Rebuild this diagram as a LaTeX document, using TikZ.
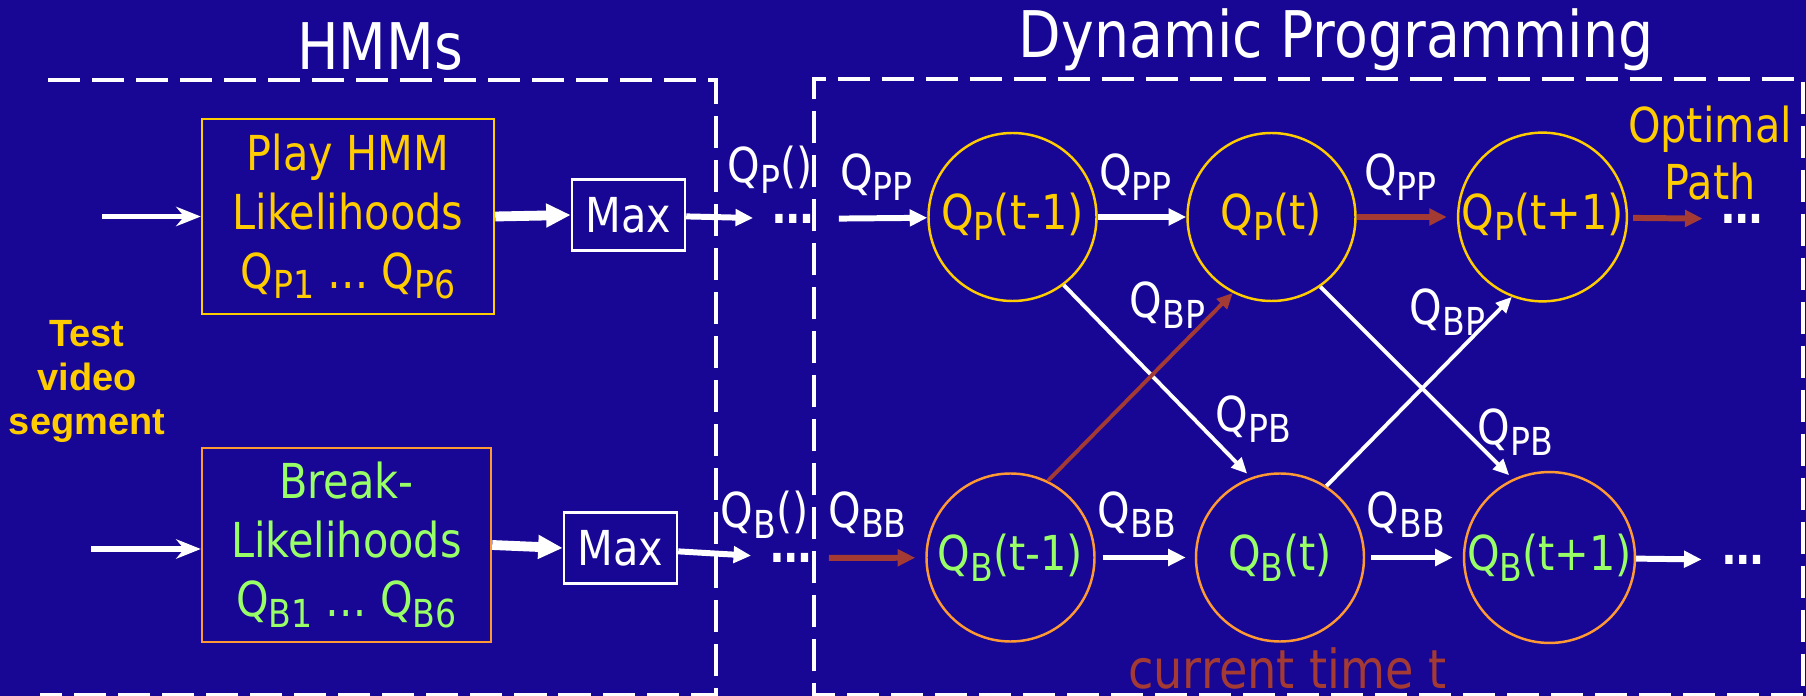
\documentclass[tikz,border=0pt]{standalone}
\usepackage{graphicx}
\usepackage{fontspec}
\setmainfont{DejaVu Sans}[FakeStretch=0.86]
\newfontfamily\labelfont{Liberation Sans}
\usetikzlibrary{positioning,arrows.meta}

\definecolor{slideblue}{RGB}{24,7,148}
\definecolor{playgold}{RGB}{255,204,0}
\definecolor{breakgreen}{RGB}{153,255,102}
\definecolor{breakorange}{RGB}{255,153,51}
\definecolor{pathred}{RGB}{163,58,51}

\newcommand{\Qs}[1]{Q\raisebox{-0.4ex}{\scalebox{0.8}{#1}}}

\tikzset{
  flowarrow/.style={-{Triangle[length=5pt,width=4.6pt]}, line width=1.7pt, white},
  patharrow/.style={flowarrow, pathred},
  bigarrow/.style={-{Triangle[length=7pt,width=6.4pt]}, line width=2.8pt, white},
  inarrow/.style={-{Stealth[length=7pt,width=5.5pt]}, line width=1.6pt, white},
  crossarrow/.style={-{Triangle[length=4.5pt,width=4pt]}, line width=1.1pt, white},
  dashline/.style={white, line width=1pt, dash pattern=on 0.32cm off 0.12cm},
  title/.style={text=white, anchor=base, inner sep=0pt, font=\fontsize{18.3}{22}\selectfont},
  hmmbox/.style={draw, line width=0.7pt, align=center, inner sep=0pt},
  maxbox/.style={draw=white, line width=0.7pt, minimum width=1.13cm, minimum height=0.71cm, inner sep=0pt, text=white},
  playstate/.style={circle, draw=playgold, line width=0.7pt, minimum size=1.68cm, inner sep=0pt, text=playgold},
  breakstate/.style={circle, draw=breakorange, line width=0.7pt, minimum size=1.68cm, inner sep=0pt, text=breakgreen},
  qlabel/.style={text=white, inner sep=0pt, anchor=base},
  dotsnode/.style={text=white, inner sep=0pt, font=\bfseries\fontsize{13.7}{16.8}\selectfont},
  testlabel/.style={text=playgold, align=center, inner sep=0pt, font=\labelfont\bfseries\fontsize{10.8}{12.5}\selectfont}
}

\begin{document}
\begin{tikzpicture}[every node/.style={font=\fontsize{13.7}{16.8}\selectfont}]
  \fill[slideblue] (0,0) rectangle (18.06,-6.96);
  \useasboundingbox (0,0) rectangle (18.06,-6.96);

  \draw[dashline] (0.48,-0.80) -- (7.16,-0.80) -- (7.16,-6.945) -- (0.40,-6.945);
  \draw[dashline] (18.03,-6.945) -- (8.14,-6.945) -- (8.14,-0.79) -- (18.03,-0.79) -- cycle;

  \node[title] (hmmtitle) at (3.80,-0.70) {HMMs};
  \node[title] (dptitle) at (13.36,-0.58) {Dynamic Programming};

  \node[hmmbox, draw=playgold, text=playgold, minimum width=2.92cm, minimum height=1.95cm] (playbox) at (3.48,-2.165) {Play HMM\\Likelihoods\\\Qs{P1} … \Qs{P6}};
  \node[hmmbox, draw=breakorange, text=breakgreen, minimum width=2.89cm, minimum height=1.94cm] (breakbox) at (3.465,-5.45) {Break-\\Likelihoods\\\Qs{B1} … \Qs{B6}};
  \node[testlabel] (testseg) at (0.87,-3.815) {Test\\video\\segment};

  \coordinate (inP) at (1.02,-2.165);
  \coordinate (inB) at (0.91,-5.49);
  \draw[inarrow] (inP) -- (playbox.west);
  \draw[inarrow] (inB) -- (inB -| breakbox.west);

  \node[maxbox] (maxP) at (6.285,-2.15) {Max};
  \node[maxbox] (maxB) at (6.205,-5.48) {Max};
  \draw[bigarrow] (playbox.east) -- (maxP.west);
  \draw[bigarrow] (breakbox.east) -- (maxB.west);

  \node[dotsnode] (dotsPL) at (7.935,-2.19) {…};
  \node[dotsnode] (dotsBL) at (7.915,-5.58) {…};
  \draw[flowarrow, shorten >=0.19cm] (maxP) -- (dotsPL);
  \draw[flowarrow, shorten >=0.19cm] (maxB) -- (dotsBL);
  \node[qlabel, anchor=base west] (qP) at (7.27,-1.83) {\Qs{P}()};
  \node[qlabel, anchor=base west] (qB) at (7.20,-5.28) {\Qs{B}()};

  \node[playstate] (P1) at (10.125,-2.17) {\Qs{P}(t-1)};
  \node[playstate] (P2) at (12.715,-2.17) {\Qs{P}(t)};
  \node[playstate] (P3) at (15.425,-2.17) {\Qs{P}(t+1)};
  \node[breakstate] (B1) at (10.105,-5.575) {\Qs{B}(t-1)};
  \node[breakstate] (B2) at (12.80,-5.575) {\Qs{B}(t)};
  \node[breakstate] (B3) at (15.495,-5.575) {\Qs{B}(t+1)};
  \node[dotsnode] (dotsPR) at (17.42,-2.19) {…};
  \node[dotsnode] (dotsBR) at (17.43,-5.60) {…};

  \draw[flowarrow, shorten <=0.24cm] (dotsPL) -- (P1);
  \draw[flowarrow] (P1) -- (P2);
  \draw[patharrow, shorten >=0.1cm] (P2) -- (P3);
  \draw[patharrow, shorten <=0.05cm, shorten >=0.18cm] (P3) -- (dotsPR);
  \draw[patharrow, shorten <=0.16cm, shorten >=0.1cm] (dotsBL) -- (B1);
  \draw[flowarrow, shorten <=0.07cm, shorten >=0.09cm] (B1) -- (B2);
  \draw[flowarrow, shorten <=0.06cm, shorten >=0.1cm] (B2) -- (B3);
  \draw[flowarrow, shorten >=0.2cm] (B3) -- (dotsBR);

  \node[qlabel] (ppA) at (8.765,-1.90) {\Qs{PP}};
  \node[qlabel] (ppB) at (11.355,-1.90) {\Qs{PP}};
  \node[qlabel] (ppC) at (14.005,-1.90) {\Qs{PP}};
  \node[qlabel] (bbA) at (8.675,-5.27) {\Qs{BB}};
  \node[qlabel] (bbB) at (11.37,-5.27) {\Qs{BB}};
  \node[qlabel] (bbC) at (14.06,-5.27) {\Qs{BB}};
  \node[qlabel, anchor=base west] (bpA) at (11.29,-3.18) {\Qs{BP}};
  \node[qlabel, anchor=base west] (bpB) at (14.09,-3.25) {\Qs{BP}};
  \node[qlabel, anchor=base west] (pbA) at (12.15,-4.32) {\Qs{PB}};
  \node[qlabel, anchor=base west] (pbB) at (14.77,-4.45) {\Qs{PB}};

  \draw[crossarrow, shorten >=1.5pt] (P1.-53) -- (B2.110);
  \draw[crossarrow, shorten >=1.5pt] (P2.-55) -- (B3.115);
  \draw[crossarrow] (B2.57) -- (P3.-111);
  \draw[crossarrow, pathred] (B1.64) -- (P2.-117);

  \node[text=playgold, align=center, inner sep=0pt, font=\fontsize{13.7}{16.2}\selectfont] (optpath) at (17.10,-1.53) {Optimal\\Path};
  \node[qlabel, text=pathred, font=\fontsize{15.3}{18}\selectfont] (curtime) at (12.875,-6.88) {current time t};
\end{tikzpicture}
\end{document}
